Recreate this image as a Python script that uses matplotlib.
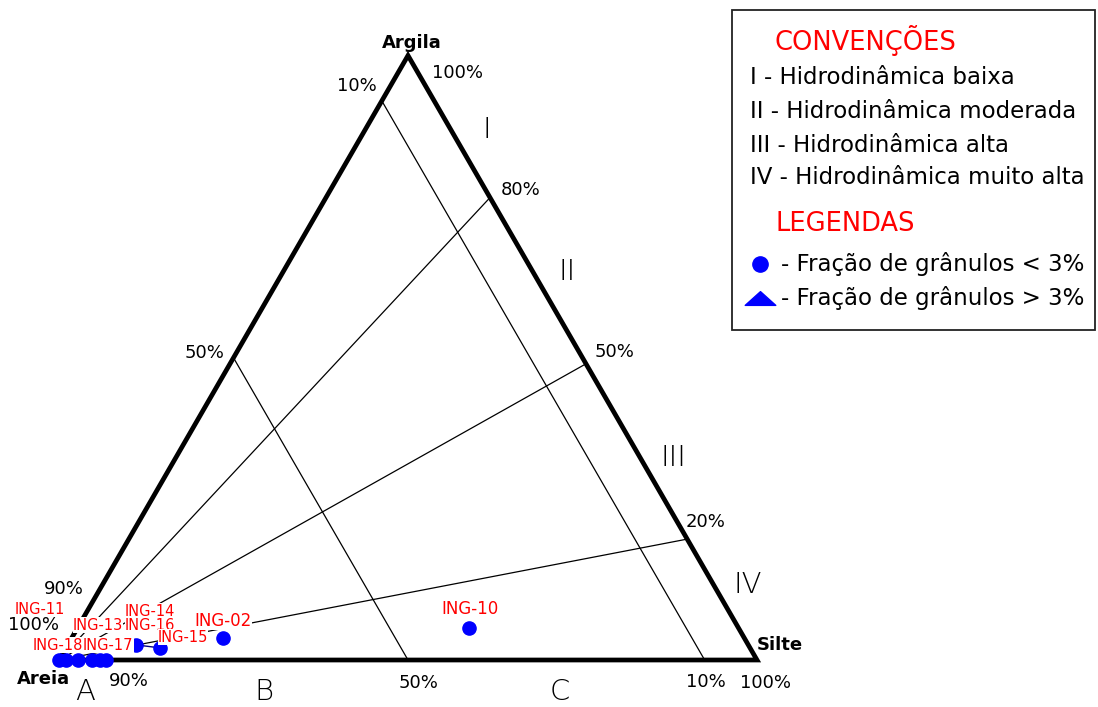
import numpy as np
import matplotlib
matplotlib.use("Agg")
import matplotlib.pyplot as plt
from matplotlib.lines import Line2D
from matplotlib.patches import Rectangle
from matplotlib.path import Path

# ---------------- data ----------------
vertex_names = ["Areia", "Silte", "Argila"]

# samples: (sand %, silt %, clay %)
sample_names = ["ING-10", "ING-02", "ING-15", "ING-16",
                "ING-18", "ING-11", "ING-17", "ING-13", "ING-12", "ING-14"]
sample_sand = [38.6, 74.7, 84.5, 87.7, 100.0, 99.0, 97.3, 95.3, 94.1, 93.3]
sample_silt = [56.1, 21.7, 13.5, 9.8, 0.0, 1.0, 2.7, 4.7, 5.9, 6.7]
sample_clay = [5.3, 3.6, 2.0, 2.5, 0.0, 0.0, 0.0, 0.0, 0.0, 0.0]

# Pejrup reference lines (positions as drawn in the original figure)
sand_line_values = [50.0, 7.5]            # constant sand content lines
sand_line_texts = ["50%", "10%"]
clay_ratio_values = [76.5, 49.0, 20.0]    # clay/(silt+clay) lines from sand vertex
clay_ratio_texts = ["80%", "50%", "20%"]

conv_title = "CONVENÇÕES"
conv_items = ["I - Hidrodinâmica baixa", "II - Hidrodinâmica moderada",
              "III - Hidrodinâmica alta", "IV - Hidrodinâmica muito alta"]
leg_title = "LEGENDAS"
leg_items = ["- Fração de grânulos < 3%", "- Fração de grânulos > 3%"]

# ---------------- helpers ----------------
S3 = np.sqrt(3) / 2


def tern(sand, silt, clay):
    tot = np.asarray(sand, float) + np.asarray(silt, float) + np.asarray(clay, float)
    si = np.asarray(silt, float) / tot
    cl = np.asarray(clay, float) / tot
    return si + cl / 2, cl * S3


W, H = 1098, 707
plt.rcParams["font.family"] = ["DejaVu Sans"]
fig = plt.figure(figsize=(W / 100, H / 100), dpi=100)
ax = fig.add_axes([0, 0, 1, 1])
SC = 698.0
ax.set_xlim(-59 / SC, (W - 59) / SC)
ax.set_ylim((660 - H) / SC, 660 / SC)
ax.axis("off")


def P(x, y):
    return x / W, 1 - y / H


def ftext(x, y, s, **kw):
    kw.setdefault("ha", "center")
    kw.setdefault("va", "center")
    return fig.text(*P(x, y), s, **kw)


RED = "#ff0000"
BLUE = "#0000ff"

# triangle edges
tx, ty = tern([100, 0, 0, 100], [0, 100, 0, 0], [0, 0, 100, 0])
ax.plot(tx, ty, color="black", lw=3.4, solid_joinstyle="miter", zorder=2)

# constant sand lines
for s in sand_line_values:
    lx, ly = tern([s, s], [0, 100 - s], [100 - s, 0])
    ax.plot(lx, ly, color="black", lw=0.9, zorder=1)

# clay ratio lines from sand vertex
for r in clay_ratio_values:
    lx, ly = tern([100, 0], [0, 100 - r], [0, r])
    ax.plot(lx, ly, color="black", lw=0.9, zorder=1)

# samples
sx, sy = tern(sample_sand, sample_silt, sample_clay)
ax.plot(sx, sy, "o", color=BLUE, ms=9.5, mec=BLUE, ls="none", zorder=3)
# leader between ING-16 and ING-15
i15, i16 = sample_names.index("ING-15"), sample_names.index("ING-16")
ax.plot([sx[i16], sx[i15]], [sy[i16], sy[i15]], color="#000080", lw=1.0, zorder=2.5)

# sample labels (white boxes hide what lies beneath, as in the original)
label_pos = [("ING-10", 470, 609, 12), ("ING-02", 223, 621, 12),
             ("ING-11", 40, 609, 10.5), ("ING-14", 150, 611, 10.5),
             ("ING-13", 98, 625, 10.5), ("ING-16", 150, 625, 10.5),
             ("ING-15", 183, 637, 10.5),
             ("ING-18", 58, 645, 10.5), ("ING-17", 108, 645, 10.5)]
for name, x, y, fs in label_pos:
    ftext(x, y, name, color=RED, fontsize=fs, zorder=5,
          bbox=dict(facecolor="white", edgecolor="none", pad=0.2))

# vertex labels
ftext(412, 43, vertex_names[2], fontsize=13, fontweight="bold")
ftext(780, 645, vertex_names[1], fontsize=13, fontweight="bold")
ftext(43, 679, vertex_names[0], fontsize=13, fontweight="bold")

# percentage labels
pct = [("100%", 457, 73), ("10%", 357, 86), ("50%", 204, 353), ("90%", 64, 589),
       ("100%", 34, 625), (clay_ratio_texts[0], 521, 190), (clay_ratio_texts[1], 614, 352),
       (clay_ratio_texts[2], 706, 522), ("90%", 129, 681), (sand_line_texts[0], 418, 683),
       (sand_line_texts[1], 706, 682), ("100%", 766, 683)]
for s, x, y in pct:
    ftext(x, y, s, fontsize=13)

# zone labels
for s, x, y in [("I", 487, 130), ("II", 567, 272), ("III", 673, 458), ("IV", 748, 585),
                ("A", 85, 692), ("B", 264, 692), ("C", 560, 692)]:
    ftext(x, y, s, fontsize=21, fontweight="light")

# legend box
fig.add_artist(Rectangle(P(732, 330), (1095 - 732) / W, (330 - 10) / H,
                         transform=fig.transFigure, facecolor="white",
                         edgecolor="#222222", lw=1.3))
ftext(775, 40, conv_title, color=RED, fontsize=18.5, ha="left")
for s, y in zip(conv_items, [78, 111, 145, 178]):
    ftext(750, y, s, fontsize=16.5, ha="left")
ftext(775, 224, leg_title, color=RED, fontsize=18.5, ha="left")
fig.add_artist(Line2D([P(760, 264)[0]], [P(760, 264)[1]], marker="o", ms=11,
                      color=BLUE, transform=fig.transFigure))
flat_tri = Path([(-1, -0.45), (1, -0.45), (0, 0.45), (-1, -0.45)],
                [Path.MOVETO, Path.LINETO, Path.LINETO, Path.CLOSEPOLY])
fig.add_artist(Line2D([P(760, 298)[0]], [P(760, 298)[1]], marker=flat_tri, ms=22,
                      color=BLUE, transform=fig.transFigure))
ftext(781, 264, leg_items[0], fontsize=16.5, ha="left")
ftext(781, 298, leg_items[1], fontsize=16.5, ha="left")

fig.savefig("out.png", dpi=100, facecolor="white")
